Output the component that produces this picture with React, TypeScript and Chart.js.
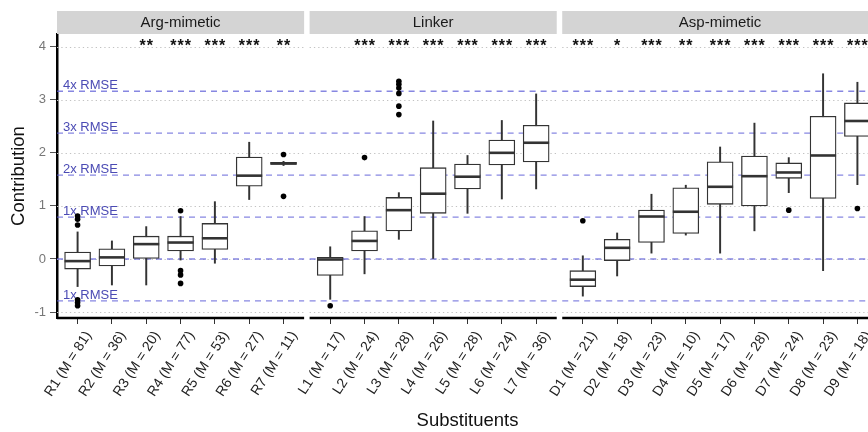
import React, { useEffect, useRef } from 'react';
import { Chart, registerables } from 'chart.js';

Chart.register(...registerables);

// ---------- data ----------
const panelNames = ['Arg-mimetic', 'Linker', 'Asp-mimetic'];
const panelSizes = [7, 7, 9];

const categories = [
  'R1', 'R2', 'R3', 'R4', 'R5', 'R6', 'R7',
  'L1', 'L2', 'L3', 'L4', 'L5', 'L6', 'L7',
  'D1', 'D2', 'D3', 'D4', 'D5', 'D6', 'D7', 'D8', 'D9',
];
const counts = [
  81, 36, 20, 77, 53, 27, 11,
  17, 24, 28, 26, 28, 24, 36,
  21, 18, 23, 10, 17, 28, 24, 23, 18,
];

const whiskerLow = [
  -0.52, -0.49, -0.49, -0.02, -0.08, 1.12, 1.76,
  -0.76, -0.28, 0.37, 0.0, 0.86, 1.13, 1.32,
  -0.70, -0.32, 0.11, 0.45, 0.11, 0.53, 1.25, -0.22, 1.40,
];
const q1 = [
  -0.19, -0.13, 0.01, 0.15, 0.18, 1.37, 1.78,
  -0.31, 0.15, 0.53, 0.86, 1.32, 1.77, 1.83,
  -0.52, -0.03, 0.31, 0.48, 1.03, 1.00, 1.52, 1.14, 2.31,
];
const median = [
  -0.04, 0.03, 0.28, 0.31, 0.39, 1.57, 1.80,
  -0.01, 0.34, 0.92, 1.23, 1.55, 2.00, 2.19,
  -0.39, 0.21, 0.80, 0.89, 1.36, 1.56, 1.63, 1.95, 2.60,
];
const q3 = [
  0.13, 0.19, 0.43, 0.43, 0.67, 1.92, 1.82,
  0.03, 0.53, 1.16, 1.72, 1.79, 2.24, 2.52,
  -0.22, 0.37, 0.92, 1.34, 1.83, 1.94, 1.81, 2.69, 2.94,
];
const whiskerHigh = [
  0.51, 0.34, 0.61, 0.80, 1.08, 2.20, 1.84,
  0.23, 0.80, 1.25, 2.60, 1.95, 2.61, 3.11,
  0.06, 0.49, 1.22, 1.39, 2.11, 2.56, 1.91, 3.49, 3.33,
];
const outliers: number[][] = [
  [0.81, 0.75, 0.64, -0.77, -0.82, -0.88], [], [], [0.91, -0.22, -0.30, -0.46], [], [], [1.97, 1.18],
  [-0.88], [1.91], [3.35, 3.29, 3.22, 3.12, 2.88, 2.72], [], [], [], [],
  [0.72], [], [], [], [], [], [0.92], [], [0.95],
];
const stars = [
  '', '', '**', '***', '***', '***', '**',
  '', '***', '***', '***', '***', '***', '***',
  '***', '*', '***', '**', '***', '***', '***', '***', '***',
];

const RMSE = 0.79;
const rmseMultiples = [-1, 0, 1, 2, 3, 4];
const rmseLabels = ['1x RMSE', '', '1x RMSE', '2x RMSE', '3x RMSE', '4x RMSE'];
const yTicks = [-1, 0, 1, 2, 3, 4];
const yMin = -1.112;
const yMax = 4.239;

// ---------- layout helpers ----------
const EXPAND = 0.6;
const GAP = 0.16;
const LABEL_ANGLE = 57; // degrees
const panelStarts: number[] = [];
{
  let s = 0;
  panelSizes.forEach((n) => {
    panelStarts.push(s);
    s = s + (n - 1) + 2 * EXPAND + GAP;
  });
}
const positions: number[] = [];
panelSizes.forEach((n, p) => {
  for (let i = 0; i < n; i++) positions.push(panelStarts[p] + i);
});
const xMin = panelStarts[0] - EXPAND;
const xMax = panelStarts[2] + panelSizes[2] - 1 + EXPAND;

const FONT = '"Liberation Sans", Arial, Helvetica, sans-serif';

const facetPlugin = {
  id: 'facets',
  beforeDatasetsDraw(chart: any) {
    const { ctx, chartArea, scales } = chart;
    const xs = scales.x;
    const ys = scales.y;
    ctx.save();
    panelSizes.forEach((n, p) => {
      const l = xs.getPixelForValue(panelStarts[p] - EXPAND);
      const r = xs.getPixelForValue(panelStarts[p] + n - 1 + EXPAND);
      // dotted grid
      ctx.strokeStyle = '#c2c2c2';
      ctx.lineWidth = 1;
      ctx.setLineDash([1.3, 3]);
      yTicks.forEach((v) => {
        const yy = Math.round(ys.getPixelForValue(v)) + 0.5;
        ctx.beginPath();
        ctx.moveTo(l, yy);
        ctx.lineTo(r, yy);
        ctx.stroke();
      });
      // RMSE dashed lines
      ctx.strokeStyle = 'rgba(95,95,215,0.75)';
      ctx.lineWidth = 1.3;
      ctx.setLineDash([6, 5]);
      rmseMultiples.forEach((m) => {
        const yy = ys.getPixelForValue(m * RMSE);
        ctx.beginPath();
        ctx.moveTo(l, yy);
        ctx.lineTo(r, yy);
        ctx.stroke();
      });
      ctx.setLineDash([]);
      // x axis line per panel
      ctx.strokeStyle = '#000';
      ctx.lineWidth = 2.5;
      ctx.beginPath();
      ctx.moveTo(l, chartArea.bottom);
      ctx.lineTo(r, chartArea.bottom);
      ctx.stroke();
    });
    // RMSE labels (first panel)
    ctx.fillStyle = '#4b4bb4';
    ctx.font = `13px ${FONT}`;
    ctx.textAlign = 'left';
    ctx.textBaseline = 'alphabetic';
    const lx = xs.getPixelForValue(panelStarts[0] - EXPAND) + 6;
    rmseMultiples.forEach((m, i) => {
      if (!rmseLabels[i]) return;
      ctx.fillText(rmseLabels[i], lx, ys.getPixelForValue(m * RMSE) - 2);
    });
    // significance stars
    ctx.fillStyle = '#111';
    ctx.font = `bold 16px ${FONT}`;
    ctx.textAlign = 'center';
    (ctx as any).letterSpacing = '1px';
    positions.forEach((x, i) => {
      if (!stars[i]) return;
      ctx.fillText(stars[i], xs.getPixelForValue(x) + 0.5, ys.getPixelForValue(4) + 4);
    });
    (ctx as any).letterSpacing = '0px';
    ctx.restore();
  },
  afterDraw(chart: any) {
    const { ctx, scales, chartArea } = chart;
    const xs = scales.x;
    ctx.save();
    // facet strips
    panelSizes.forEach((n, p) => {
      const l = xs.getPixelForValue(panelStarts[p] - EXPAND);
      const r = xs.getPixelForValue(panelStarts[p] + n - 1 + EXPAND);
      ctx.fillStyle = '#d4d4d4';
      ctx.fillRect(l, 11, r - l, 23);
      ctx.fillStyle = '#1a1a1a';
      ctx.font = `15px ${FONT}`;
      ctx.textAlign = 'center';
      ctx.textBaseline = 'middle';
      ctx.fillText(panelNames[p], (l + r) / 2, 22.5);
    });
    // rotated category labels
    ctx.fillStyle = '#222';
    ctx.font = `14px ${FONT}`;
    ctx.textAlign = 'right';
    ctx.textBaseline = 'top';
    const ang = (LABEL_ANGLE * Math.PI) / 180;
    positions.forEach((x, i) => {
      const px = xs.getPixelForValue(x);
      ctx.save();
      ctx.translate(px + 5, chartArea.bottom + 11);
      ctx.rotate(-ang);
      ctx.fillText(`${categories[i]} (M = ${counts[i]})`, 0, 0);
      ctx.restore();
    });
    ctx.restore();
  },
};

export default function App() {
  const ref = useRef<HTMLCanvasElement>(null);
  useEffect(() => {
    if (!ref.current) return;
    const outlierData: { x: number; y: number }[] = [];
    outliers.forEach((arr, i) => arr.forEach((v) => outlierData.push({ x: positions[i], y: v })));

    const chart = new Chart(ref.current, {
      type: 'bar',
      data: {
        datasets: [
          {
            type: 'scatter',
            label: 'outliers',
            data: outlierData,
            pointRadius: 2.8,
            pointBackgroundColor: '#000',
            pointBorderWidth: 0,
            showLine: false,
          } as any,
          {
            type: 'scatter',
            label: 'median',
            data: positions.map((x, i) => ({ x, y: median[i] })),
            pointStyle: 'line',
            pointRadius: 13,
            pointBorderWidth: 2.6,
            pointBorderColor: '#333',
            borderColor: '#333',
            showLine: false,
          } as any,
          {
            type: 'bar',
            label: 'box',
            data: positions.map((x, i) => ({ x, y: [q1[i], q3[i]] })),
            backgroundColor: '#ffffff',
            borderColor: '#333',
            borderWidth: 1.3,
            borderSkipped: false,
            barThickness: 26,
            grouped: false,
          } as any,
          {
            type: 'bar',
            label: 'whisker',
            data: positions.map((x, i) => ({ x, y: [whiskerLow[i], whiskerHigh[i]] })),
            backgroundColor: '#333',
            borderWidth: 0,
            barThickness: 1.3,
            grouped: false,
          } as any,
        ],
      },
      options: {
        responsive: true,
        maintainAspectRatio: false,
        animation: false,
        events: [],
        layout: { autoPadding: false, padding: { top: 34, right: 2, left: 0, bottom: 0 } },
        plugins: {
          legend: { display: false },
          tooltip: { enabled: false },
        },
        scales: {
          x: {
            type: 'linear',
            min: xMin,
            max: xMax,
            offset: false,
            afterBuildTicks: (scale: any) => {
              scale.ticks = positions.map((v) => ({ value: v }));
            },
            afterFit: (scale: any) => {
              scale.height = 114;
              scale.paddingLeft = 0;
              scale.paddingRight = 0;
            },
            grid: {
              drawOnChartArea: false,
              drawTicks: true,
              tickLength: 6,
              tickColor: '#333',
              offset: false,
            },
            border: { display: false },
            ticks: {
              display: false,
              autoSkip: false,
            },
            title: {
              display: true,
              text: 'Substituents',
              color: '#111',
              font: { family: FONT, size: 18.5 },
              padding: { top: 0, bottom: 0 },
            },
          },
          y: {
            type: 'linear',
            min: yMin,
            max: yMax,
            afterBuildTicks: (scale: any) => {
              scale.ticks = yTicks.map((v) => ({ value: v }));
            },
            afterFit: (scale: any) => {
              scale.width = 57;
              scale.paddingTop = 0;
              scale.paddingBottom = 0;
            },
            grid: {
              drawOnChartArea: false,
              drawTicks: true,
              tickLength: 7,
              tickColor: '#555',
            },
            border: { display: true, color: '#000', width: 2.5 },
            ticks: {
              color: '#777',
              padding: 4,
              font: { family: FONT, size: 13 },
              callback: (v: any) => String(v),
            },
            title: {
              display: true,
              text: 'Contribution',
              color: '#111',
              font: { family: FONT, size: 18.5 },
              padding: { top: 8, bottom: 0 },
            },
          },
        },
      } as any,
      plugins: [facetPlugin],
    });
    return () => chart.destroy();
  }, []);

  return (
    <div
      style={{
        position: 'fixed',
        left: 0,
        top: 0,
        width: 868,
        height: 432,
        overflow: 'hidden',
        background: '#fff',
      }}
    >
      <div style={{ position: 'absolute', left: 0, top: 0, width: 880, height: 432 }}>
        <canvas ref={ref} />
      </div>
    </div>
  );
}
